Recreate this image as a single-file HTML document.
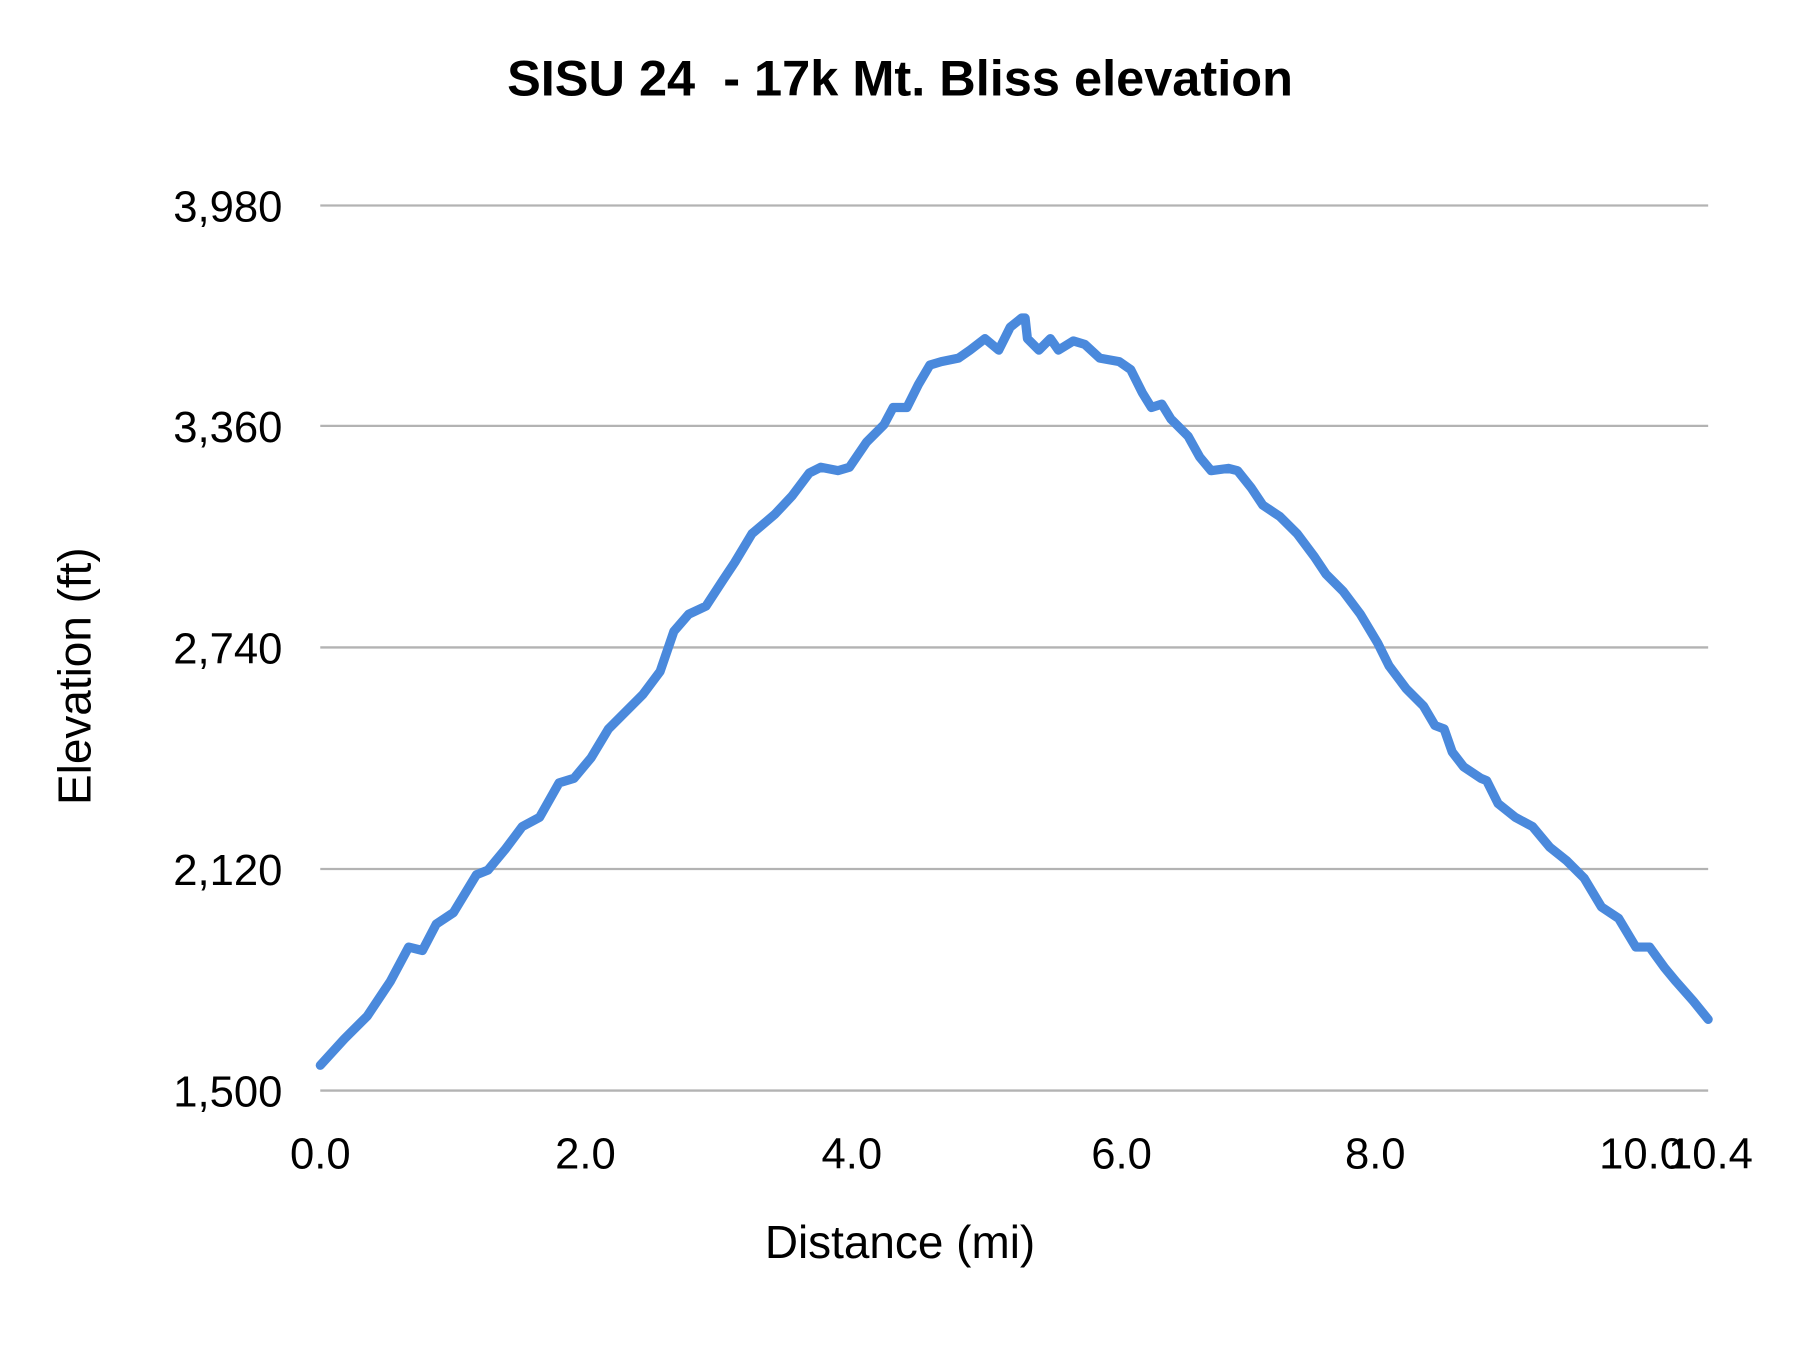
<!DOCTYPE html>
<html><head><meta charset="utf-8"><style>
html,body{margin:0;padding:0;background:#fff;}
svg{display:block;}
text{font-family:"Liberation Sans",Arial,sans-serif;fill:#000;}
</style></head><body>
<svg width="1800" height="1350" viewBox="0 0 1568 1176" xmlns="http://www.w3.org/2000/svg">
<rect width="1568" height="1176" fill="#fff"/>
<text x="784" y="83" text-anchor="middle" font-size="44" font-weight="bold" xml:space="preserve">SISU 24  - 17k Mt. Bliss elevation</text>
<g stroke="#b3b3b3" stroke-width="2">
<line x1="279" y1="179" x2="1488" y2="179"/>
<line x1="279" y1="371" x2="1488" y2="371"/>
<line x1="279" y1="564" x2="1488" y2="564"/>
<line x1="279" y1="757" x2="1488" y2="757"/>
<line x1="279" y1="950" x2="1488" y2="950"/>
</g>
<g font-size="38" text-anchor="end">
<text x="246" y="193">3,980</text>
<text x="246" y="385">3,360</text>
<text x="246" y="578">2,740</text>
<text x="246" y="771">2,120</text>
<text x="246" y="964">1,500</text>
</g>
<g font-size="38" text-anchor="middle">
<text x="279" y="1018">0.0</text>
<text x="510" y="1018">2.0</text>
<text x="742" y="1018">4.0</text>
<text x="977" y="1018">6.0</text>
<text x="1198" y="1018">8.0</text>
<text x="1430" y="1018">10.0</text>
<text x="1490" y="1018">10.4</text>
</g>
<text x="784" y="1096" text-anchor="middle" font-size="40">Distance (mi)</text>
<text transform="translate(79,589) rotate(-90)" text-anchor="middle" font-size="40">Elevation (ft)</text>
<polyline fill="none" stroke="#4a89dc" stroke-width="8" stroke-linejoin="round" stroke-linecap="round" points="279,928 300,905 320,885 340,855 356,825 368,828 380,805 395,795 415,762 425,758 440,740 455,720 470,712 487,682 500,678 515,660 530,635 545,620 560,605 575,585 587,550 600,535 615,528 630,505 640,490 655,465 675,448 690,432 705,412 715,407 730,410 740,407 755,385 770,370 778,355 790,355 800,335 810,318 820,315 835,312 845,305 858,295 870,305 880,285 890,277 893,277 895,295 905,305 915,295 922,305 935,297 945,300 958,312 975,315 985,322 995,342 1003,355 1012,352 1020,365 1035,380 1045,398 1055,410 1070,408 1078,410 1090,425 1100,440 1115,450 1130,465 1145,485 1155,500 1170,515 1185,535 1200,560 1210,580 1225,600 1240,615 1250,632 1258,635 1265,655 1275,668 1290,678 1295,680 1305,700 1320,712 1335,720 1350,738 1365,750 1380,765 1395,790 1410,800 1425,825 1437,825 1450,843 1460,855 1475,872 1488,888"/>
</svg>
</body></html>
